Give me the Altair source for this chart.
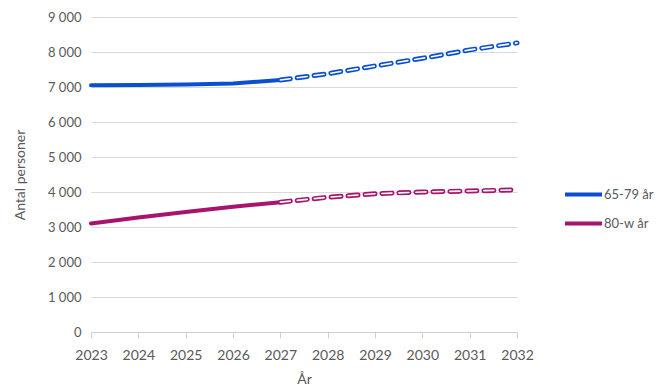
import altair as alt
import pandas as pd

years = [2023, 2024, 2025, 2026, 2027, 2028, 2029, 2030, 2031, 2032]
series_a = "65-79 år"
series_b = "80-w år"
values_a = [7050, 7060, 7070, 7100, 7200, 7380, 7600, 7820, 8060, 8260]
values_b = [3100, 3270, 3430, 3580, 3710, 3850, 3950, 4000, 4030, 4060]
last_actual = 2027

rows = []
for name, vals in [(series_a, values_a), (series_b, values_b)]:
    for y, v in zip(years, vals):
        rows.append({"year": y, "value": v, "series": name})
df = pd.DataFrame(rows)
solid = df[df.year <= last_actual]
dashed = df[df.year >= last_actual]

font = "Lato"
grey = "#595959"

color = alt.Color(
    "series:N",
    scale=alt.Scale(domain=[series_a, series_b], range=["#0b4fd1", "#a8136e"]),
    legend=alt.Legend(
        title=None, orient="none", legendX=472, legendY=157,
        symbolType="stroke", symbolSize=1369, symbolStrokeWidth=4,
        labelFontSize=13, labelFont=font, labelColor=grey, labelOffset=0,
        rowPadding=-7,
    ),
)

x = alt.X(
    "year:Q",
    scale=alt.Scale(domain=[2023, 2032], nice=False),
    axis=alt.Axis(
        values=years, format="d", title="År", titleFont=font, titleFontSize=14,
        titleFontWeight="normal", titleColor=grey, titlePadding=10,
        labelFont=font, labelFontSize=14, labelColor=grey, labelPadding=10,
        labelOverlap=False, labelFlush=False, labelBound=False,
        grid=False, domainColor="#d0d0d0", tickColor="#d0d0d0", tickSize=6,
        tickOffset=0,
    ),
)
y = alt.Y(
    "value:Q",
    scale=alt.Scale(domain=[0, 9000], nice=False),
    axis=alt.Axis(
        values=list(range(0, 9001, 1000)),
        labelExpr="replace(format(datum.value, ','), ',', ' ')",
        title="Antal personer", titleFont=font, titleFontSize=14,
        titleFontWeight="normal", titleColor=grey, titlePadding=20,
        labelFont=font, labelFontSize=13, labelColor=grey, labelPadding=10,
        domain=False, ticks=False, gridColor="#d9d9d9",
    ),
)

base_solid = alt.Chart(solid).mark_line(strokeWidth=4, strokeCap="round").encode(
    x=x, y=y, color=color, detail="series:N"
)
base_dash = alt.Chart(dashed).mark_line(
    strokeWidth=5, strokeDash=[10, 7], strokeCap="round"
).encode(x=x, y=y, color=alt.Color("series:N", legend=None), detail="series:N")
inner_dash = alt.Chart(dashed).mark_line(
    strokeWidth=1.6, strokeDash=[10, 7], strokeCap="round", color="white"
).encode(x=x, y=y, detail="series:N")

chart = alt.layer(base_solid, base_dash, inner_dash).properties(
    width=426, height=315,
    autosize=alt.AutoSizeParams(type="none"),
    padding={"left": 83, "top": 9, "right": 144, "bottom": 60},
).configure_view(stroke=None)

chart.save("out.html", embed_options={"renderer": "svg", "actions": False})
